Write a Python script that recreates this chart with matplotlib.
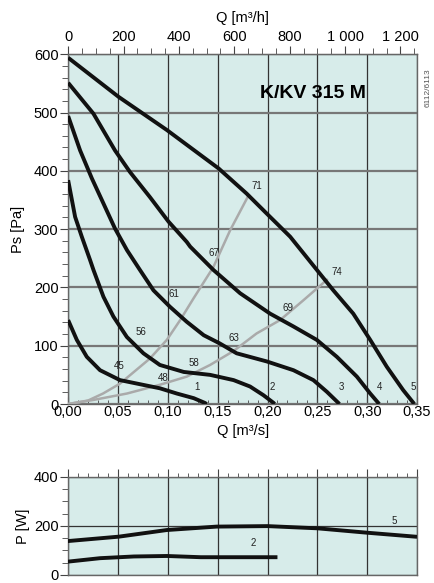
import numpy as np
import matplotlib
matplotlib.use("Agg")
import matplotlib.pyplot as plt
from matplotlib.ticker import MultipleLocator, FixedLocator, FuncFormatter

plt.rcParams['font.family'] = ['Liberation Sans', 'DejaVu Sans']

# fan curves Ps [Pa] vs Q [m3/s]
q1 = [0.0, 0.0087, 0.0187, 0.032, 0.052, 0.072, 0.092, 0.109, 0.126, 0.137, 0.139]
p1 = [144, 110, 81, 58, 41, 34, 27, 18, 10, 2, 0]
q2 = [0.0, 0.007, 0.0137, 0.022, 0.0254, 0.0354, 0.0454, 0.0589, 0.0755, 0.092, 0.116,
      0.1424, 0.166, 0.1825, 0.196, 0.206, 0.207]
p2 = [384, 321, 287, 247, 230, 184, 150, 115, 87, 67, 55, 50, 41, 30, 15, 2, 0]
q3 = [0.0, 0.012, 0.0238, 0.0338, 0.047, 0.059, 0.072, 0.0856, 0.102, 0.119, 0.136,
      0.152, 0.169, 0.1993, 0.226, 0.246, 0.2595, 0.271, 0.272]
p3 = [494, 435, 387, 350, 301, 264, 230, 195, 167, 141, 118, 104, 87, 73, 58, 41, 21, 2, 0]
q4 = [0.0, 0.0254, 0.047, 0.062, 0.082, 0.1006, 0.119, 0.1224, 0.1457,
      0.1725, 0.2026, 0.226, 0.2494, 0.2695, 0.2896, 0.303, 0.311, 0.312]
p4 = [551, 498, 435, 398, 355, 313, 278, 270, 230, 190, 155, 133, 110, 81,
      47, 18, 2, 0]
q5 = [0.0, 0.0505, 0.099, 0.151, 0.179, 0.199, 0.2227, 0.2495, 0.266, 0.286, 0.303,
      0.3196, 0.336, 0.3463, 0.347]
p5 = [594, 527, 470, 404, 361, 327, 287, 230, 195, 155, 110, 64, 24, 2, 0]
fan_q = [q1, q2, q3, q4, q5]
fan_p = [p1, p2, p3, p4, p5]

# system curves (grey)
qa = [0.0, 0.02, 0.035, 0.052, 0.082, 0.099, 0.1124, 0.1257, 0.1424, 0.1457, 0.1625, 0.181]
pa = [0, 6, 18, 35, 78, 110, 144, 181, 226, 235, 298, 358]
qb = [0.0, 0.0254, 0.059, 0.092, 0.119, 0.1424, 0.166, 0.189, 0.2126, 0.236, 0.2595]
pb = [0, 7, 18, 33, 47, 67, 91, 121, 144, 178, 213]

# labels: text, Q, Ps
labels = [("45", 0.051, 65), ("48", 0.095, 45), ("1", 0.129, 30),
          ("56", 0.073, 123), ("58", 0.126, 70), ("2", 0.205, 30),
          ("61", 0.106, 189), ("63", 0.166, 113), ("3", 0.274, 30),
          ("67", 0.146, 259), ("69", 0.221, 165), ("4", 0.312, 30),
          ("71", 0.1895, 374), ("74", 0.27, 226), ("5", 0.346, 30)]

# power curves P [W]
pq5 = [0.0, 0.051, 0.099, 0.149, 0.2, 0.25, 0.3, 0.348]
pw5 = [138, 156, 183, 197, 199, 190, 172, 156]
pq2 = [0.0, 0.032, 0.066, 0.099, 0.133, 0.166, 0.208]
pw2 = [54, 68, 75, 77, 72, 72, 72]
power_labels = [("5", 0.327, 221), ("2", 0.186, 129)]

bg = '#d7ecea'
comma = FuncFormatter(lambda v, p: f"{v:.2f}".replace('.', ','))

fig = plt.figure(figsize=(4.34, 5.83), dpi=100)
ax = fig.add_axes([0.157, 0.307, 0.804, 0.600])
ax2 = fig.add_axes([0.157, 0.014, 0.804, 0.168])

for a in (ax, ax2):
    a.set_facecolor(bg)
    a.set_xlim(0, 0.35)
    for s in a.spines.values():
        s.set_color('#666666')
        s.set_linewidth(1.0)
    a.xaxis.set_major_locator(MultipleLocator(0.05))
    a.xaxis.set_minor_locator(MultipleLocator(0.01))
    a.grid(True, which='major', axis='x', color='#333333', lw=0.9)

# top panel
ax.set_ylim(0, 600)
ax.yaxis.set_major_locator(MultipleLocator(100))
ax.yaxis.set_minor_locator(MultipleLocator(20))
ax.grid(True, which='major', axis='y', color='#777777', lw=1.6)
ax.set_axisbelow(True)
ax.xaxis.set_major_formatter(comma)
ax.tick_params(axis='x', which='both', direction='in', top=False, labelsize=10.5, pad=1, color='#444444')
ax.tick_params(axis='x', which='major', length=5)
ax.tick_params(axis='x', which='minor', length=3)
ax.tick_params(axis='y', which='major', length=6, labelsize=10.5, pad=1, color='#444444')
ax.tick_params(axis='y', which='minor', length=4, color='#444444')
ax.set_xlabel("Q [m³/s]", fontsize=10.5, labelpad=3)
ax.set_ylabel("Ps [Pa]", fontsize=10.5, labelpad=6)

ax.plot(qa, pa, color='#aaaaaa', lw=1.8, zorder=3)
ax.plot(qb, pb, color='#aaaaaa', lw=1.8, zorder=3)
for q, p in zip(fan_q, fan_p):
    ax.plot(q, p, color='#111111', lw=2.8, zorder=4, solid_capstyle='butt', solid_joinstyle='round')
for t, x, y in labels:
    ax.text(x, y, t, fontsize=7, ha='center', va='center', color='#222222', zorder=5)
ax.text(0.246, 533, "K/KV 315 M", fontsize=14, fontweight='bold', ha='center', va='center')

top = ax.secondary_xaxis('top', functions=(lambda x: x * 3600, lambda x: x / 3600))
top.xaxis.set_major_locator(FixedLocator([0, 200, 400, 600, 800, 1000, 1200]))
top.xaxis.set_minor_locator(MultipleLocator(50))
top.xaxis.set_major_formatter(FuncFormatter(lambda v, p: f"{int(v):,}".replace(',', ' ')))
top.tick_params(which='major', length=6, labelsize=10.5, pad=1, color='#444444')
top.tick_params(which='minor', length=4, color='#444444')
top.spines['top'].set_color('#666666')
top.set_xlabel("Q [m³/h]", fontsize=10.5, labelpad=6)

fig.text(0.986, 0.85, "6112/6113", rotation=90, fontsize=6, color='#555555', ha='center', va='center')

# bottom panel
ax2.set_ylim(0, 400)
ax2.yaxis.set_major_locator(MultipleLocator(200))
ax2.yaxis.set_minor_locator(MultipleLocator(50))
ax2.grid(True, which='major', axis='y', color='#333333', lw=0.9)
ax2.set_axisbelow(True)
ax2.tick_params(axis='x', which='both', bottom=False, labelbottom=False, top=True, direction='out', color='#444444')
ax2.tick_params(axis='x', which='major', length=6)
ax2.tick_params(axis='x', which='minor', length=3)
ax2.tick_params(axis='y', which='major', length=6, labelsize=10.5, pad=1, color='#444444')
ax2.tick_params(axis='y', which='minor', length=4, color='#444444')
ax2.set_ylabel("P [W]", fontsize=10.5, labelpad=3)
ax2.plot(pq5, pw5, color='#111111', lw=2.8, zorder=4)
ax2.plot(pq2, pw2, color='#111111', lw=2.8, zorder=4)
for t, x, y in power_labels:
    ax2.text(x, y, t, fontsize=7, ha='center', va='center', color='#222222')

fig.savefig("out.png", dpi=100)
